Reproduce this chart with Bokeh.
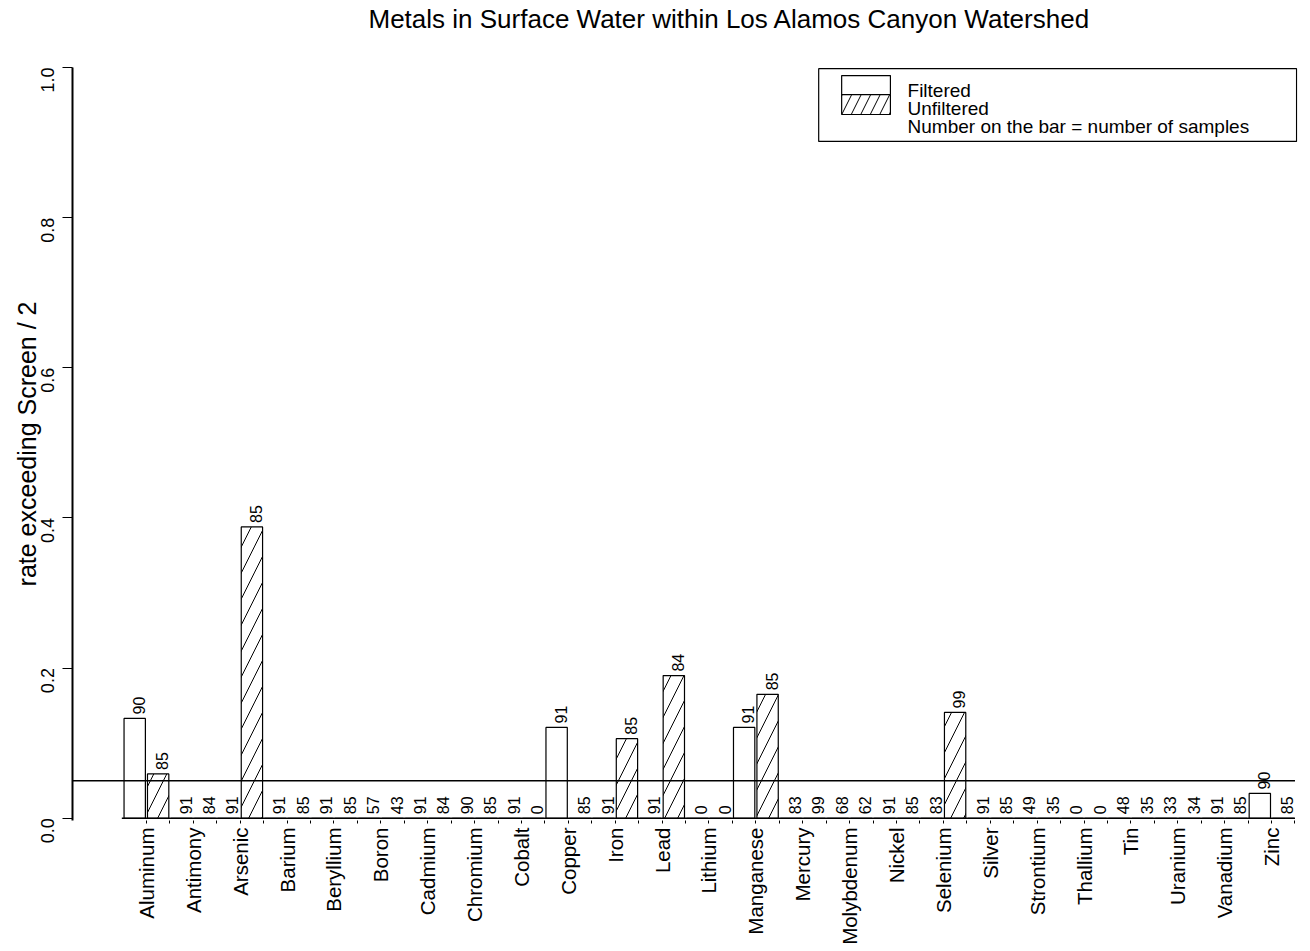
from math import pi
from bokeh.plotting import figure
from bokeh.models import Range1d, FixedTicker, ColumnDataSource, PrintfTickFormatter, Title
from bokeh.core.properties import value
from bokeh.embed import file_html
from bokeh.resources import INLINE

# ---------------- data ----------------
metals = ["Aluminum", "Antimony", "Arsenic", "Barium", "Beryllium", "Boron",
          "Cadmium", "Chromium", "Cobalt", "Copper", "Iron", "Lead", "Lithium",
          "Manganese", "Mercury", "Molybdenum", "Nickel", "Selenium", "Silver",
          "Strontium", "Thallium", "Tin", "Uranium", "Vanadium", "Zinc"]
filtered_rate = [0.133, 0.0, 0.0, 0.0, 0.0, 0.0, 0.0, 0.0, 0.0, 0.121, 0.0, 0.0, 0.0,
                 0.121, 0.0, 0.0, 0.0, 0.0, 0.0, 0.0, 0.0, 0.0, 0.0, 0.0, 0.033]
unfiltered_rate = [0.059, 0.0, 0.388, 0.0, 0.0, 0.0, 0.0, 0.0, 0.0, 0.0, 0.106, 0.190, 0.0,
                   0.165, 0.0, 0.0, 0.0, 0.141, 0.0, 0.0, 0.0, 0.0, 0.0, 0.0, 0.0]
filtered_n = [90, 91, 91, 91, 91, 57, 91, 90, 91, 91, 91, 91, 0,
              91, 83, 68, 91, 83, 91, 49, 0, 48, 33, 91, 90]
unfiltered_n = [85, 84, 85, 85, 85, 43, 84, 85, 0, 85, 85, 84, 0,
                85, 99, 62, 85, 99, 85, 35, 0, 35, 34, 85, 85]
screen_level = 0.05
y_ticks = [0.0, 0.2, 0.4, 0.6, 0.8, 1.0]
legend_lines = ["Filtered", "Unfiltered", "Number on the bar = number of samples"]
title_text = "Metals in Surface Water within Los Alamos Canyon Watershed"
y_label = "rate exceeding Screen / 2"

FONT = "Liberation Sans"
n = len(metals)
n_slots = 2 * n
bar_w = 0.91

x_f = [2 * i for i in range(n)]
x_u = [2 * i + 1 for i in range(n)]

p = figure(width=1310, height=951, output_backend="svg", toolbar_location=None,
           x_range=Range1d(-2.654, 49.607), y_range=Range1d(-0.003, 1.0),
           min_border_left=72, min_border_right=13, min_border_top=67,
           min_border_bottom=131, background_fill_color="white",
           border_fill_color="white")
p.outline_line_color = None
p.xgrid.visible = False
p.ygrid.visible = False

# spacer between frame and title (invisible)
p.add_layout(Title(text=" ", text_font=FONT, text_font_size="26px", standoff=0,
                   text_color="white"), "above")

# title
p.title.text = title_text
p.title.text_font = FONT
p.title.text_font_size = "26px"
p.title.text_font_style = "normal"
p.title.text_color = "black"
p.title.align = "left"
p.title.offset = 296
p.title.vertical_align = "top"
p.title.standoff = 0

# bars
src_f = ColumnDataSource(dict(x=x_f, top=filtered_rate, lab=[str(v) for v in filtered_n]))
src_u = ColumnDataSource(dict(x=x_u, top=unfiltered_rate, lab=[str(v) for v in unfiltered_n]))

p.vbar(x="x", top="top", bottom=0, width=bar_w, source=src_f,
       fill_color="white", line_color="black", line_width=1.2)
p.vbar(x="x", top="top", bottom=0, width=bar_w, source=src_u,
       fill_color="white", line_color="black", line_width=1.2,
       hatch_pattern="/", hatch_color="black", hatch_scale=26, hatch_weight=1)

# baseline and screen line
p.segment(x0=[-0.55], y0=[0], x1=[n_slots - 0.5], y1=[0], line_color="black", line_width=1.4)
p.segment(x0=[p.x_range.start], y0=[screen_level], x1=[n_slots - 0.5], y1=[screen_level],
          line_color="black", line_width=1.4)

# sample-count labels
for src in (src_f, src_u):
    p.text(x="x", y="top", text="lab", source=src, angle=pi / 2,
           text_align="left", text_baseline="middle", x_offset=4, y_offset=-4,
           text_font=value(FONT), text_font_size="16px", text_color="black")

# legend (drawn in data space, top-right)
lx0, lx1 = 29.18, p.x_range.end - 0.04
ly0, ly1 = 0.9015, 0.9985
p.quad(left=[lx0], right=[lx1], bottom=[ly0], top=[ly1],
       fill_color="white", line_color="black", line_width=1.2)
p.quad(left=[30.16], right=[32.24], bottom=[0.964], top=[0.9893],
       fill_color="white", line_color="black", line_width=1.2)
p.quad(left=[30.16], right=[32.24], bottom=[0.9374], top=[0.964],
       fill_color="white", line_color="black", line_width=1.2,
       hatch_pattern="/", hatch_color="black", hatch_scale=19, hatch_weight=1)
p.text(x=[32.97] * 3, y=[0.970, 0.9454, 0.9208], text=legend_lines,
       text_align="left", text_baseline="middle",
       text_font=value(FONT), text_font_size="19px", text_color="black")

# y axis
yax = p.yaxis[0]
yax.ticker = FixedTicker(ticks=y_ticks)
yax.formatter = PrintfTickFormatter(format="%.1f")
yax.major_label_orientation = pi / 2
yax.axis_line_width = 2
yax.axis_line_color = "black"
yax.major_tick_out = 10
yax.major_tick_in = 0
yax.minor_tick_out = 0
yax.minor_tick_in = 0
yax.major_tick_line_color = "black"
yax.major_label_text_font = FONT
yax.major_label_text_font_size = "18px"
yax.major_label_text_color = "black"
yax.major_label_standoff = 15
yax.axis_label = y_label
yax.axis_label_text_font = FONT
yax.axis_label_text_font_size = "25px"
yax.axis_label_text_font_style = "normal"
yax.axis_label_text_color = "black"
yax.axis_label_standoff = -9

# x axis
xax = p.xaxis[0]
centers = [2 * i + 0.5 for i in range(n)]
minors = [2 * i + 1.5 for i in range(n)]
xax.ticker = FixedTicker(ticks=centers, minor_ticks=minors)
xax.major_label_overrides = {c: m for c, m in zip(centers, metals)}
xax.major_label_orientation = pi / 2
xax.axis_line_color = None
xax.major_tick_out = 3
xax.major_tick_in = 0
xax.minor_tick_out = 3
xax.minor_tick_in = 0
xax.major_tick_line_color = "black"
xax.minor_tick_line_color = "black"
xax.major_label_text_font = FONT
xax.major_label_text_font_size = "20.5px"
xax.major_label_text_color = "black"
xax.major_label_standoff = 4

open("out.html", "w").write(file_html(p, INLINE))
